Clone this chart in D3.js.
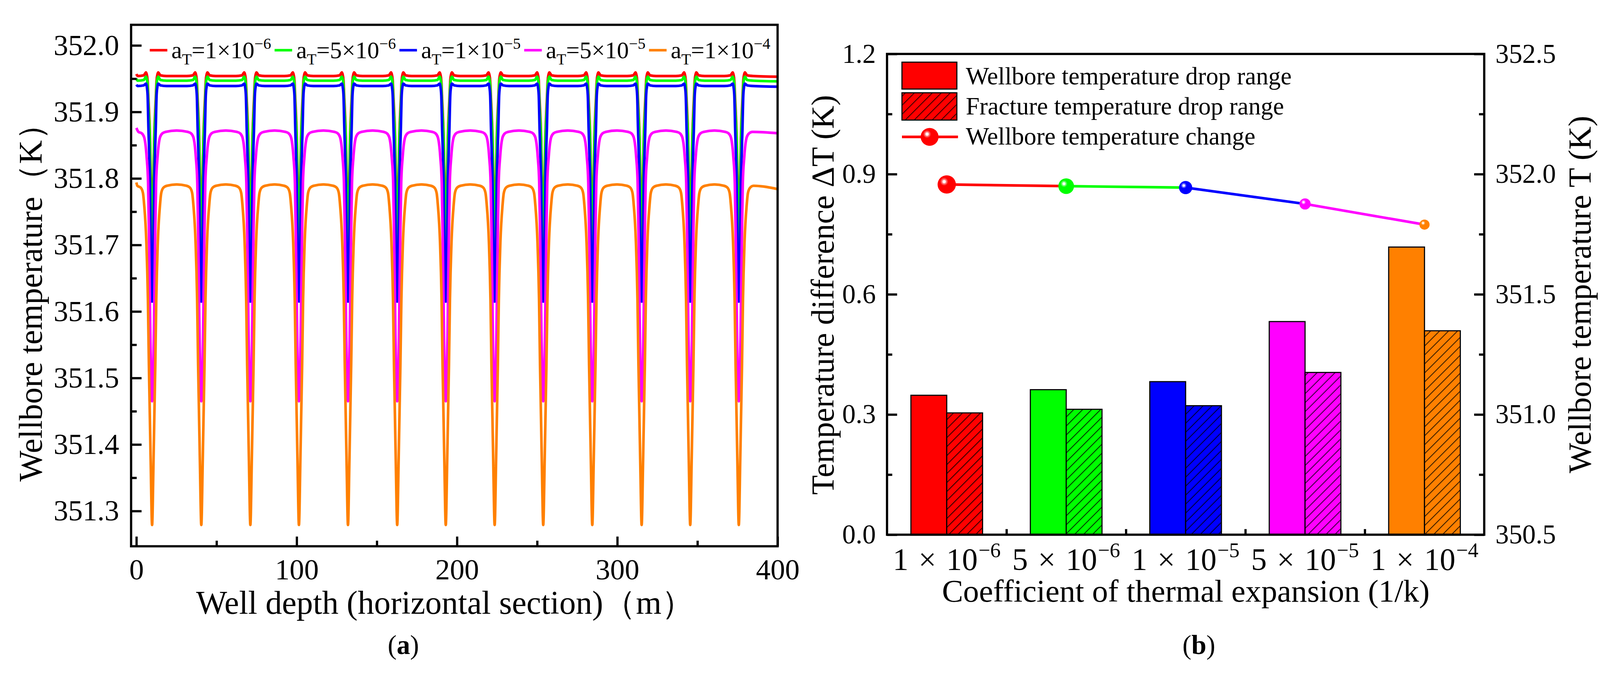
<!DOCTYPE html>
<html>
<head>
<meta charset="utf-8">
<script src="https://cdn.jsdelivr.net/npm/d3@7"></script>
<style>
  html, body { margin: 0; padding: 0; background: #fff; overflow: hidden; }
  svg { display: block; width: 100vw; height: 100vh; }
  svg text { font-family: "Liberation Serif", "Times New Roman", serif; }
</style>
</head>
<body>
<svg id="chart" viewBox="0 0 4284 1761" preserveAspectRatio="xMidYMid meet"></svg>
<script>
// ---------- panel (a): wellbore temperature along the horizontal section ----------
const seriesColors = ["#ff0000", "#00ff00", "#0000ff", "#ff00ff", "#ff8000"];
const seriesMantissa = ["1", "5", "1", "5", "1"];
const seriesExponent = ["−6", "−6", "−5", "−5", "−4"];

// fracture (dip) positions, m
const dipCenters = [9.8, 40.5, 71.1, 101.4, 132, 162.7, 193, 223.5, 253.8, 284.4, 315.2, 345.5, 375.8];

// half profile of one dip: [distance from dip centre (m), temperature (K)]
const dipProfile1e6 = [[0, 351.72], [0.5, 351.76], [1.3, 351.86], [2.3, 351.92], [2.8, 351.947], [3.3, 351.956], [3.8, 351.9595], [5.2, 351.955], [9, 351.954]];
const dipProfile5e6 = [[0, 351.70], [0.5, 351.74], [1.3, 351.85], [2.3, 351.91], [2.8, 351.940], [3.3, 351.950], [3.8, 351.953], [5.2, 351.948], [9, 351.947]];
const dipProfile1e5 = [[0, 351.615], [0.5, 351.646], [1.3, 351.789], [2.3, 351.877], [2.8, 351.925], [3.3, 351.938], [3.8, 351.9425], [5.2, 351.940], [9, 351.939]];
const dipProfile5e5 = [[0, 351.465], [1.08, 351.56], [1.86, 351.703], [2.5, 351.793], [3.4, 351.832], [4.95, 351.862], [6.5, 351.868], [8.5, 351.870]];
const dipProfile1e4 = [[0, 351.279], [0.9, 351.377], [2.0, 351.52], [2.6, 351.617], [3.56, 351.703], [4.96, 351.761], [5.7, 351.778], [7, 351.786], [9.2, 351.789]];
const dipProfiles = [dipProfile1e6, dipProfile5e6, dipProfile1e5, dipProfile5e5, dipProfile1e4];

// temperature midway between two dips, at the start (0 m) and at the end (400 m)
const plateauMid = [351.954, 351.947, 351.939, 351.872, 351.791];
const startTemp = [351.957, 351.950, 351.941, 351.876, 351.794];
const endTemp = [351.953, 351.946, 351.938, 351.868, 351.784];

// ---------- panel (b): drop ranges and wellbore temperature ----------
const coefficientKeys = ["1e-6", "5e-6", "1e-5", "5e-5", "1e-4"];
const coefficientMantissa = ["1", "5", "1", "5", "1"];
const coefficientExponent = ["−6", "−6", "−5", "−5", "−4"];
const wellboreDrop = [0.348, 0.362, 0.382, 0.532, 0.718];
const fractureDrop = [0.304, 0.313, 0.322, 0.405, 0.509];
const wellboreTemp = [351.957, 351.950, 351.944, 351.876, 351.790];

// marker radius per point (style)
const markerRadii = [24.5, 21, 17.7, 15, 13.6];

const serif = '"Liberation Serif", "Times New Roman", serif';
const svg = d3.select("#chart").attr("font-family", serif);
svg.append("rect").attr("width", 4284).attr("height", 1761).attr("fill", "#fff");
const defs = svg.append("defs");

//hatch patterns for fracture bars
seriesColors.forEach((c, i) => {
  const p = defs
    .append("pattern")
    .attr("id", `hatch${i}`)
    .attr("patternUnits", "userSpaceOnUse")
    .attr("width", 17)
    .attr("height", 17)
    .attr("patternTransform", "rotate(45)");
  p.append("rect").attr("width", 17).attr("height", 17).attr("fill", c);
  p.append("line")
    .attr("x1", 8.5).attr("y1", -1).attr("x2", 8.5).attr("y2", 18)
    .attr("stroke", "#000").attr("stroke-width", 1.8);
});

//shiny highlight for the markers
const hl = defs.append("radialGradient").attr("id", "highlight");
[[0, 1], [0.3, 1], [0.45, 0.6], [0.75, 0.25], [1, 0]].forEach(([o, a]) =>
  hl.append("stop").attr("offset", o).attr("stop-color", "#fff").attr("stop-opacity", a)
);

defs.append("clipPath").attr("id", "clipA")
  .append("rect").attr("x", 351).attr("y", 26).attr("width", 1731).attr("height", 1396);

const styleTicks = (g, size) => {
  g.attr("font-family", serif).attr("font-size", size);
  g.select(".domain").remove();
  g.selectAll(".tick line").attr("stroke", "#000").attr("stroke-width", 6);
  g.selectAll("text").attr("fill", "#000").attr("font-size", size).attr("font-family", serif);
};

// ================= panel (a) =================
const frameA = { left: 351, right: 2082, top: 26, bottom: 1422 };
const xA = d3.scaleLinear().domain([-3.3, 400]).range([frameA.left, frameA.right]);
const yA = d3.scaleLinear().domain([351.247, 352.031]).range([frameA.bottom, frameA.top]);

//building each series from the dip profile placed at every dip
const buildSeries = (s) => {
  const prof = dipProfiles[s];
  const pts = [[0, startTemp[s]]];
  dipCenters.forEach((c, i) => {
    const lo = i === 0 ? 0 : (dipCenters[i - 1] + c) / 2;
    const hi = i === dipCenters.length - 1 ? 400 : (c + dipCenters[i + 1]) / 2;
    prof.slice().reverse().forEach(([dx, t]) => {
      if (dx > 0 && c - dx > lo + 0.3) pts.push([c - dx, t]);
    });
    pts.push([c, prof[0][1]]);
    prof.forEach(([dx, t]) => {
      if (dx > 0 && c + dx < hi - 0.3) pts.push([c + dx, t]);
    });
    if (i < dipCenters.length - 1) pts.push([hi, plateauMid[s]]);
  });
  pts.push([400, endTemp[s]]);
  return pts;
};

const lineA = d3.line().x((d) => xA(d[0])).y((d) => yA(d[1])).curve(d3.curveMonotoneX);
const plotA = svg.append("g").attr("clip-path", "url(#clipA)");
seriesColors.forEach((c, s) => {
  plotA.append("path")
    .attr("d", lineA(buildSeries(s)))
    .attr("fill", "none")
    .attr("stroke", c)
    .attr("stroke-width", 7)
    .attr("stroke-linejoin", "round");
});

//axes (a)
const xAxisA = svg.append("g").attr("transform", `translate(0,${frameA.bottom})`)
  .call(d3.axisBottom(xA).tickValues([0, 100, 200, 300, 400]).tickSize(-26).tickFormat(d3.format("d")));
styleTicks(xAxisA, 78);
xAxisA.selectAll("text").attr("dy", null).attr("y", 89);
const xMinorA = svg.append("g").attr("transform", `translate(0,${frameA.bottom})`)
  .call(d3.axisBottom(xA).tickValues([50, 150, 250, 350]).tickSize(-15).tickFormat(""));
styleTicks(xMinorA, 0);

const yAxisA = svg.append("g").attr("transform", `translate(${frameA.left},0)`)
  .call(d3.axisLeft(yA).tickValues(d3.range(351.3, 352.01, 0.1)).tickSize(-28).tickPadding(32).tickFormat(d3.format(".1f")));
styleTicks(yAxisA, 78);
const yMinorA = svg.append("g").attr("transform", `translate(${frameA.left},0)`)
  .call(d3.axisLeft(yA).tickValues(d3.range(351.35, 352.0, 0.1)).tickSize(-15).tickFormat(""));
styleTicks(yMinorA, 0);

svg.append("rect")
  .attr("x", frameA.left).attr("y", frameA.top)
  .attr("width", frameA.right - frameA.left).attr("height", frameA.bottom - frameA.top)
  .attr("fill", "none").attr("stroke", "#000").attr("stroke-width", 6);

svg.append("text")
  .attr("x", 1192).attr("y", 1603)
  .attr("text-anchor", "middle").attr("font-size", 88)
  .text("Well depth (horizontal section)（m）");
svg.append("text")
  .attr("transform", "translate(112,748) rotate(-90)")
  .attr("text-anchor", "middle").attr("font-size", 88)
  .text("Wellbore temperature（K）");

//legend (a)
const legendA = svg.append("g");
seriesColors.forEach((c, i) => {
  const x0 = 401 + i * 334.2;
  legendA.append("line")
    .attr("x1", x0).attr("x2", x0 + 47).attr("y1", 94).attr("y2", 94)
    .attr("stroke", c).attr("stroke-width", 7);
  const t = legendA.append("text").attr("x", x0 + 58).attr("y", 115).attr("font-size", 64);
  t.append("tspan").text("a");
  t.append("tspan").attr("font-size", 42).attr("dy", 17).text("T");
  t.append("tspan").attr("dy", -17).text(`=${seriesMantissa[i]}×10`);
  t.append("tspan").attr("font-size", 42).attr("dy", -25).text(seriesExponent[i]);
});

svg.append("text").attr("x", 1080).attr("y", 1710).attr("text-anchor", "middle").attr("font-size", 72)
  .call((t) => {
    t.append("tspan").text("(");
    t.append("tspan").attr("font-weight", "bold").text("a");
    t.append("tspan").text(")");
  });

// ================= panel (b) =================
const frameB = { left: 2375, right: 3974, top: 104, bottom: 1391 };
const xB = d3.scaleBand().domain(coefficientKeys).range([frameB.left, frameB.right]);
const xSub = d3.scaleBand().domain(["wellbore", "fracture"]).range([0, xB.bandwidth()]).paddingOuter(0.667);
const yB = d3.scaleLinear().domain([0, 1.2]).range([frameB.bottom, frameB.top]);
const yB2 = d3.scaleLinear().domain([350.5, 352.5]).range([frameB.bottom, frameB.top]);

const barsB = svg.append("g");
coefficientKeys.forEach((k, i) => {
  barsB.append("rect")
    .attr("x", xB(k) + xSub("wellbore")).attr("y", yB(wellboreDrop[i]))
    .attr("width", xSub.bandwidth()).attr("height", yB(0) - yB(wellboreDrop[i]))
    .attr("fill", seriesColors[i]).attr("stroke", "#000").attr("stroke-width", 3);
  barsB.append("rect")
    .attr("x", xB(k) + xSub("fracture")).attr("y", yB(fractureDrop[i]))
    .attr("width", xSub.bandwidth()).attr("height", yB(0) - yB(fractureDrop[i]))
    .attr("fill", `url(#hatch${i})`).attr("stroke", "#000").attr("stroke-width", 3);
});

//wellbore temperature line, each segment in the colour of its starting point
const centerB = (k) => xB(k) + xB.bandwidth() / 2;
const lineB = d3.line().x((d) => centerB(d.k)).y((d) => yB2(d.t));
const tempPoints = coefficientKeys.map((k, i) => ({ k, t: wellboreTemp[i] }));
d3.pairs(tempPoints).forEach((pair, i) => {
  svg.append("path").attr("d", lineB(pair))
    .attr("fill", "none").attr("stroke", seriesColors[i]).attr("stroke-width", 7);
});

const drawMarker = (g, cx, cy, r, color) => {
  g.append("circle").attr("cx", cx).attr("cy", cy).attr("r", r).attr("fill", color);
  g.append("circle").attr("cx", cx - 0.28 * r).attr("cy", cy - 0.31 * r).attr("r", 0.45 * r)
    .attr("fill", "url(#highlight)");
};
const markersB = svg.append("g");
tempPoints.forEach((d, i) => drawMarker(markersB, centerB(d.k), yB2(d.t), markerRadii[i], seriesColors[i]));

//axes (b)
const yAxisB = svg.append("g").attr("transform", `translate(${frameB.left},0)`)
  .call(d3.axisLeft(yB).tickValues([0, 0.3, 0.6, 0.9, 1.2]).tickSize(-27).tickPadding(30).tickFormat(d3.format(".1f")));
styleTicks(yAxisB, 72);
const yMinorB = svg.append("g").attr("transform", `translate(${frameB.left},0)`)
  .call(d3.axisLeft(yB).tickValues([0.15, 0.45, 0.75, 1.05]).tickSize(-14).tickFormat(""));
styleTicks(yMinorB, 0);

const yAxisB2 = svg.append("g").attr("transform", `translate(${frameB.right},0)`)
  .call(d3.axisRight(yB2).tickValues([350.5, 351, 351.5, 352, 352.5]).tickSize(-27).tickPadding(30).tickFormat(d3.format(".1f")));
styleTicks(yAxisB2, 72);
const yMinorB2 = svg.append("g").attr("transform", `translate(${frameB.right},0)`)
  .call(d3.axisRight(yB2).tickValues([350.75, 351.25, 351.75, 352.25]).tickSize(-14).tickFormat(""));
styleTicks(yMinorB2, 0);

const xIndex = d3.scaleLinear().domain([0, coefficientKeys.length]).range([frameB.left, frameB.right]);
const xMinorB = svg.append("g").attr("transform", `translate(0,${frameB.bottom})`)
  .call(d3.axisBottom(xIndex).tickValues([1, 2, 3, 4]).tickSize(-15).tickFormat(""));
styleTicks(xMinorB, 0);

const xAxisB = svg.append("g").attr("transform", `translate(0,${frameB.bottom})`)
  .call(d3.axisBottom(xB).tickSize(0).tickFormat(""));
styleTicks(xAxisB, 84);
xAxisB.selectAll(".tick").each(function (k, i) {
  const t = d3.select(this).append("text")
    .attr("y", 95).attr("text-anchor", "middle").attr("font-size", 84)
    .attr("font-family", serif).attr("fill", "#000");
  t.append("tspan").text(coefficientMantissa[i]);
  t.append("tspan").attr("dx", 6).text(" × ");
  t.append("tspan").attr("dx", 6).text("10");
  t.append("tspan").attr("font-size", 56).attr("dx", 2).attr("dy", -35).text(coefficientExponent[i]);
});

svg.append("rect")
  .attr("x", frameB.left).attr("y", frameB.top)
  .attr("width", frameB.right - frameB.left).attr("height", frameB.bottom - frameB.top)
  .attr("fill", "none").attr("stroke", "#000").attr("stroke-width", 6);

svg.append("text")
  .attr("x", 3175).attr("y", 1570).attr("text-anchor", "middle").attr("font-size", 85)
  .text("Coefficient of thermal expansion (1/k)");
svg.append("text")
  .attr("transform", "translate(2232,749) rotate(-90)")
  .attr("text-anchor", "middle").attr("font-size", 86)
  .text("Temperature difference ΔT (K)");
svg.append("text")
  .attr("transform", "translate(4259,748) rotate(-90)")
  .attr("text-anchor", "middle").attr("font-size", 86)
  .text("Wellbore temperature T (K)");

//legend (b)
const legendB = svg.append("g");
legendB.append("rect").attr("x", 2415).attr("y", 126).attr("width", 147).attr("height", 72)
  .attr("fill", seriesColors[0]).attr("stroke", "#000").attr("stroke-width", 3);
legendB.append("rect").attr("x", 2415).attr("y", 208).attr("width", 147).attr("height", 73)
  .attr("fill", "url(#hatch0)").attr("stroke", "#000").attr("stroke-width", 3);
legendB.append("line").attr("x1", 2415).attr("x2", 2565).attr("y1", 326).attr("y2", 326)
  .attr("stroke", seriesColors[0]).attr("stroke-width", 7);
drawMarker(legendB, 2489, 326, 24, seriesColors[0]);
[["Wellbore temperature drop range", 185], ["Fracture temperature drop range", 266], ["Wellbore temperature change", 347]]
  .forEach(([label, y]) => {
    legendB.append("text").attr("x", 2586).attr("y", y).attr("font-size", 66).text(label);
  });

svg.append("text").attr("x", 3210).attr("y", 1710).attr("text-anchor", "middle").attr("font-size", 72)
  .call((t) => {
    t.append("tspan").text("(");
    t.append("tspan").attr("font-weight", "bold").text("b");
    t.append("tspan").text(")");
  });
</script>
</body>
</html>
